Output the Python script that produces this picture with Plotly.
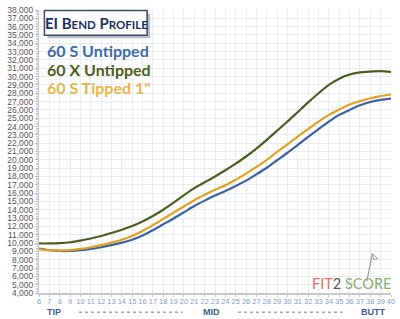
import plotly.graph_objects as go

# ---- data ----
x_pos = list(range(6, 41))
s_untipped = [9350, 9150, 9050, 9050, 9150, 9300, 9500, 9750, 10050, 10400,
              10900, 11550, 12250, 12950, 13700, 14450, 15100, 15700, 16250, 16850,
              17500, 18250, 19050, 19950, 20850, 21800, 22750, 23700, 24600, 25400,
              26000, 26550, 26950, 27200, 27350]
x_untipped = [9950, 9950, 10000, 10100, 10300, 10550, 10850, 11200, 11600, 12050,
              12600, 13250, 14000, 14850, 15750, 16600, 17300, 18000, 18750, 19550,
              20400, 21350, 22400, 23500, 24600, 25750, 26900, 28000, 29000, 29750,
              30250, 30500, 30600, 30650, 30550]
s_tipped = [9250, 9150, 9100, 9150, 9300, 9500, 9750, 10050, 10400, 10850,
            11450, 12150, 12900, 13650, 14400, 15150, 15800, 16400, 16950, 17600,
            18350, 19150, 20000, 20950, 21850, 22800, 23700, 24600, 25400, 26050,
            26650, 27050, 27400, 27650, 27850]
series_names = ["60 S Untipped", "60 X Untipped", "60 S Tipped 1\""]
series_colors = ["#3a62a3", "#4b5e1e", "#e0a21e"]
label_colors = ["#3f6aa8", "#4a5e1a", "#e6b548"]
y_ticks = list(range(4000, 38001, 1000))
x_ticks = list(range(6, 41))

W, H = 400, 319
L, R, T, B = 38.5, 5, 7.5, 26.3
PW, PH = W - L - R, H - T - B

def px(xp):
    return (xp - L) / PW

def py(yp):
    return (H - B - yp) / PH

fig = go.Figure()
for ys, nm, col in zip([s_untipped, x_untipped, s_tipped], series_names, series_colors):
    fig.add_trace(go.Scatter(x=x_pos, y=ys, mode="lines", name=nm,
                             line=dict(color=col, width=2.2, shape="spline", smoothing=0.8)))

fig.update_layout(
    width=W, height=H,
    margin=dict(l=L, r=R, t=T, b=B, pad=0),
    paper_bgcolor="white", plot_bgcolor="white",
    showlegend=False,
    font=dict(family="Liberation Sans, Arial, sans-serif"),
)
fig.update_xaxes(range=[6, 40], tickvals=x_ticks, ticktext=[str(v) for v in x_ticks], tickangle=0,
                 showgrid=True, gridcolor="#e6edf6", gridwidth=1,
                 showline=True, linecolor="#c8c8c8", linewidth=2, ticks="outside", ticklen=2,
                 ticklabelstandoff=-2,
                 tickcolor="#c8c8c8", tickfont=dict(size=7.5, color="#7f9ccc"), zeroline=False)
fig.update_yaxes(range=[4000, 38000], tickvals=y_ticks, tickformat=",d", showgrid=True,
                 gridcolor="#e6edf6", gridwidth=1, showline=True, linecolor="#c8c8c8", linewidth=1,
                 ticks="outside", ticklen=3, tickcolor="#bbbbbb",
                 minor=dict(dtick=200, ticks="outside", ticklen=2, tickcolor="#cccccc", showgrid=False),
                 tickfont=dict(size=8.5, color="#555555"), zeroline=False)

# title box with shadow
fig.add_shape(type="rect", xref="paper", yref="paper", x0=px(47), x1=px(151), y0=py(36), y1=py(11),
              fillcolor="#b9bec8", line=dict(width=0), layer="above")
fig.add_shape(type="rect", xref="paper", yref="paper", x0=px(44), x1=px(148), y0=py(33), y1=py(8),
              fillcolor="white", line=dict(color="#3c4a66", width=1.5), layer="above")
fig.add_annotation(xref="paper", yref="paper", x=px(96.5), y=py(21), showarrow=False,
                   text="<b>EI B<span style='font-size:11.5px'>END</span> P<span style='font-size:11.5px'>ROFILE</span></b>",
                   font=dict(family="Lato, sans-serif", size=15, color="#1c2f5c"),
                   xanchor="center", yanchor="middle")

# series labels
for i, (nm, col) in enumerate(zip(series_names, label_colors)):
    fig.add_annotation(xref="paper", yref="paper", x=px(45), y=py(48 + 19 * i), showarrow=False,
                       text="<b>" + nm + "</b>", font=dict(family="Lato, sans-serif", size=16, color=col),
                       xanchor="left", yanchor="middle")

# bottom region labels
for txt, cx in [("TIP", 54), ("MID", 213.5), ("BUTT", 377)]:
    fig.add_annotation(xref="paper", yref="paper", x=px(cx), y=py(311.5), showarrow=False,
                       text="<b>" + txt + "</b>", font=dict(size=9, color="#3d5d92"),
                       xanchor="center", yanchor="middle")
for x0, x1 in [(79, 184), (240, 346)]:
    fig.add_shape(type="line", xref="paper", yref="paper", x0=px(x0), x1=px(x1), y0=py(312), y1=py(312),
                  line=dict(color="#5a7cc0", width=1, dash="dot"))

# logo
fig.add_annotation(xref="paper", yref="paper", x=px(313), y=py(283), showarrow=False,
                   text="<span style='color:#e26a6a'>FIT</span><span style='color:#555555'>2</span> "
                        "<span style='color:#86b06a'>SCORE</span>",
                   font=dict(family="Lato, sans-serif", size=14.5), xanchor="left", yanchor="middle")
fig.add_shape(type="line", xref="paper", yref="paper", x0=px(370.5), x1=px(376), y0=py(281), y1=py(253),
              line=dict(color="#9a9a9a", width=1.2))
fig.add_shape(type="path", xref="paper", yref="paper",
              path=f"M {px(376)} {py(253)} L {px(381.5)} {py(258)} L {px(377.5)} {py(259)} Z",
              line=dict(color="#9a9a9a", width=1), fillcolor="white")

fig.write_html("out.html")
